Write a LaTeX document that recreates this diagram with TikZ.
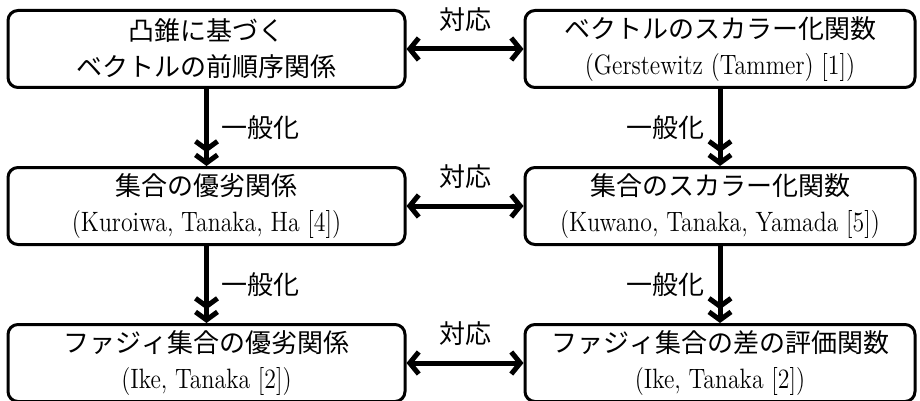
\documentclass[tikz,border=0pt]{standalone}
\usepackage{fontspec}
\newfontfamily\jp{Noto Sans CJK JP}
\newcommand\latn[1]{\scalebox{0.85}[1]{#1}}
\usetikzlibrary{arrows.meta}
\begin{document}
\begin{tikzpicture}[x=0.5pt,y=-0.5pt,
  box/.style={draw, line width=1.5pt, rounded corners=5pt, inner sep=0pt,
    minimum height=38.5pt, align=center,
    font={\fontsize{13}{18}\selectfont\lineskiplimit=-30pt}},
  lbox/.style={box, minimum width=198.5pt},
  rbox/.style={box, minimum width=195pt},
  vbarb/.style={line width=2.5pt, -{Straight Barb[length=4pt,width=11pt] Straight Barb[length=4pt,width=11pt]}},
  hbarb/.style={line width=2.5pt, {Straight Barb[length=4.5pt,width=11pt]}-{Straight Barb[length=4.5pt,width=11pt]}},
  lab/.style={font=\jp\fontsize{13}{16}\selectfont}]
\useasboundingbox (0,0) rectangle (920,401);
\node[lbox] (tl) at (206.5,49) {{\jp 凸錐に基づく}\\{\jp ベクトルの前順序関係}};
\node[rbox] (tr) at (720,49) {{\jp ベクトルのスカラー化関数}\\\latn{\fontsize{14}{18}\selectfont(Gerstewitz (Tammer) [1])}};
\node[lbox] (ml) at (206.5,206) {{\jp 集合の優劣関係}\\\latn{\fontsize{14}{18}\selectfont(Kuroiwa, Tanaka, Ha [4])}};
\node[rbox] (mr) at (720,206) {{\jp 集合のスカラー化関数}\\\latn{\fontsize{14}{18}\selectfont(Kuwano, Tanaka, Yamada [5])}};
\node[lbox] (bl) at (206.5,363) {{\jp ファジィ集合の優劣関係}\\\latn{\fontsize{14}{18}\selectfont(Ike, Tanaka [2])}};
\node[rbox] (br) at (720,363) {{\jp ファジィ集合の差の評価関数}\\\latn{\fontsize{14}{18}\selectfont(Ike, Tanaka [2])}};
\draw[vbarb] (tl.south) -- node[lab, right=3pt] {一般化} (ml.north);
\draw[vbarb] (tr.south) -- node[lab, left=3pt] {一般化} (mr.north);
\draw[vbarb] (ml.south) -- node[lab, right=3pt] {一般化} (bl.north);
\draw[vbarb] (mr.south) -- node[lab, left=3pt] {一般化} (br.north);
\draw[hbarb] (tl.east) -- node[lab, above=4pt] {対応} (tr.west);
\draw[hbarb] (ml.east) -- node[lab, above=4pt] {対応} (mr.west);
\draw[hbarb] (bl.east) -- node[lab, above=4pt] {対応} (br.west);
\end{tikzpicture}
\end{document}
